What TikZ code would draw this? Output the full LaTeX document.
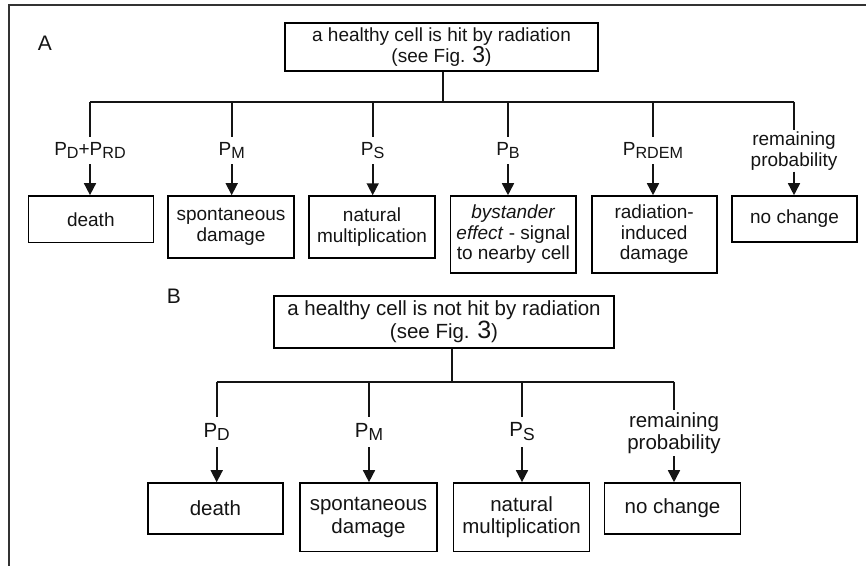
\documentclass[tikz,border=0pt]{standalone}
\usepackage{fontspec}
\setmainfont{Liberation Sans}
\usetikzlibrary{arrows.meta}

% lowered, slightly smaller subscript letters for the probabilities
\newcommand\sbs[1]{\raisebox{-0.35ex}{\scalebox{0.85}{#1}}}
% the figure number is set a little larger than the surrounding text
\newcommand\bignum[2]{{\fontsize{#1}{#1}\selectfont #2}}

\begin{document}
\begin{tikzpicture}[x=1pt, y=-1pt,
  box/.style={draw=black, line width=1.6pt, inner sep=2pt, align=center, text=black!92},
  fA/.style={font=\fontsize{19}{20.5}\selectfont},
  fB/.style={font=\fontsize{20.5}{22.5}\selectfont},
  lbl/.style={inner sep=0pt, outer sep=0pt, align=center, text=black!92},
  link/.style={line width=1.6pt, black!92},
  arr/.style={link, -{Triangle[length=12pt,width=12pt]}},
  panel/.style={font=\fontsize{21}{21}\selectfont, text=black!92}
]
\useasboundingbox (0,0) rectangle (866,566);

% frame lines
\draw[line width=2.2pt, black!80] (866,5) -- (9,5) -- (9,566);

% ---------------- panel A ----------------
\node[panel] (labA) at (45,43) {A};
\node[box, fA, minimum width=313pt, minimum height=48pt] (topA) at (441.5,47)
  {a healthy cell is hit by radiation\\(see Fig. \bignum{23}{3})};

\coordinate (jA) at (442.7,101.7);
\coordinate (bA1) at (90,101.7);
\coordinate (bA2) at (231.7,101.7);
\coordinate (bA3) at (372.7,101.7);
\coordinate (bA4) at (508,101.7);
\coordinate (bA5) at (653,101.7);
\coordinate (bA6) at (794,101.7);

\node[lbl, fA, minimum height=27.3pt] (lA1) at (90,150.35) {P\sbs{D}+P\sbs{RD}};
\node[lbl, fA, minimum height=27.3pt] (lA2) at (231.7,150.35) {P\sbs{M}};
\node[lbl, fA, minimum height=27.3pt] (lA3) at (372.7,150.35) {P\sbs{S}};
\node[lbl, fA, minimum height=27.3pt] (lA4) at (508,150.35) {P\sbs{B}};
\node[lbl, fA, minimum height=27.3pt] (lA5) at (653,150.35) {P\sbs{RDEM}};
\node[lbl, fA, minimum height=41.7pt] (lA6) at (794,150.85) {remaining\\probability};

\node[box, fA, minimum width=125pt, minimum height=46.7pt] (dA1) at (90.8,219.3) {death};
\node[box, fA, minimum width=126pt, minimum height=62pt] (dA2) at (231,227) {spontaneous\\damage};
\node[box, fA, minimum width=126pt, minimum height=61.7pt] (dA3) at (372,226.9) {natural\\multiplication};
\node[box, fA, minimum width=125.3pt, minimum height=77pt] (dA4) at (513.3,234.5) {\textit{bystander}\\\textit{effect} - signal\\to nearby cell};
\node[box, fA, minimum width=125pt, minimum height=77pt] (dA5) at (654.2,234.5) {radiation-\\induced\\damage};
\node[box, fA, minimum width=125pt, minimum height=46pt] (dA6) at (794.5,219) {no change};

\draw[link] (topA.south -| jA) -- (jA);
\draw[link] (bA1) -- (bA6);
\foreach \i in {1,...,6} {
  \draw[link] (bA\i) -- (lA\i.north);
  \draw[arr] (lA\i.south) -- (lA\i.south |- dA\i.north);
}

% ---------------- panel B ----------------
\node[panel] (labB) at (174,296) {B};
\node[box, fB, minimum width=340pt, minimum height=51.7pt] (topB) at (444,321.9)
  {a healthy cell is not hit by radiation\\(see Fig. \bignum{25}{3})};

\coordinate (jB) at (451.7,381.7);
\coordinate (bB1) at (216.7,381.7);
\coordinate (bB2) at (369,381.7);
\coordinate (bB3) at (522,381.7);
\coordinate (bB4) at (674,381.7);

\node[lbl, fB, minimum height=30.3pt] (lB1) at (216.7,431.85) {P\sbs{D}};
\node[lbl, fB, minimum height=30.3pt] (lB2) at (369,431.85) {P\sbs{M}};
\node[lbl, fB, minimum height=30.3pt] (lB3) at (522,431.85) {P\sbs{S}};
\node[lbl, fB, minimum height=46pt] (lB4) at (674,433) {remaining\\probability};

\node[box, fB, minimum width=135pt, minimum height=51pt] (dB1) at (215.4,508.5) {death};
\node[box, fB, minimum width=137pt, minimum height=68.7pt] (dB2) at (368.5,517.3) {spontaneous\\damage};
\node[box, fB, minimum width=136pt, minimum height=68.7pt] (dB3) at (521.6,517.3) {natural\\multiplication};
\node[box, fB, minimum width=136pt, minimum height=51pt] (dB4) at (672.5,508.5) {no change};

\draw[link] (topB.south -| jB) -- (jB);
\draw[link] (bB1) -- (bB4);
\foreach \i in {1,...,4} {
  \draw[link] (bB\i) -- (lB\i.north);
  \draw[arr] (lB\i.south) -- (lB\i.south |- dB\i.north);
}
\end{tikzpicture}
\end{document}
